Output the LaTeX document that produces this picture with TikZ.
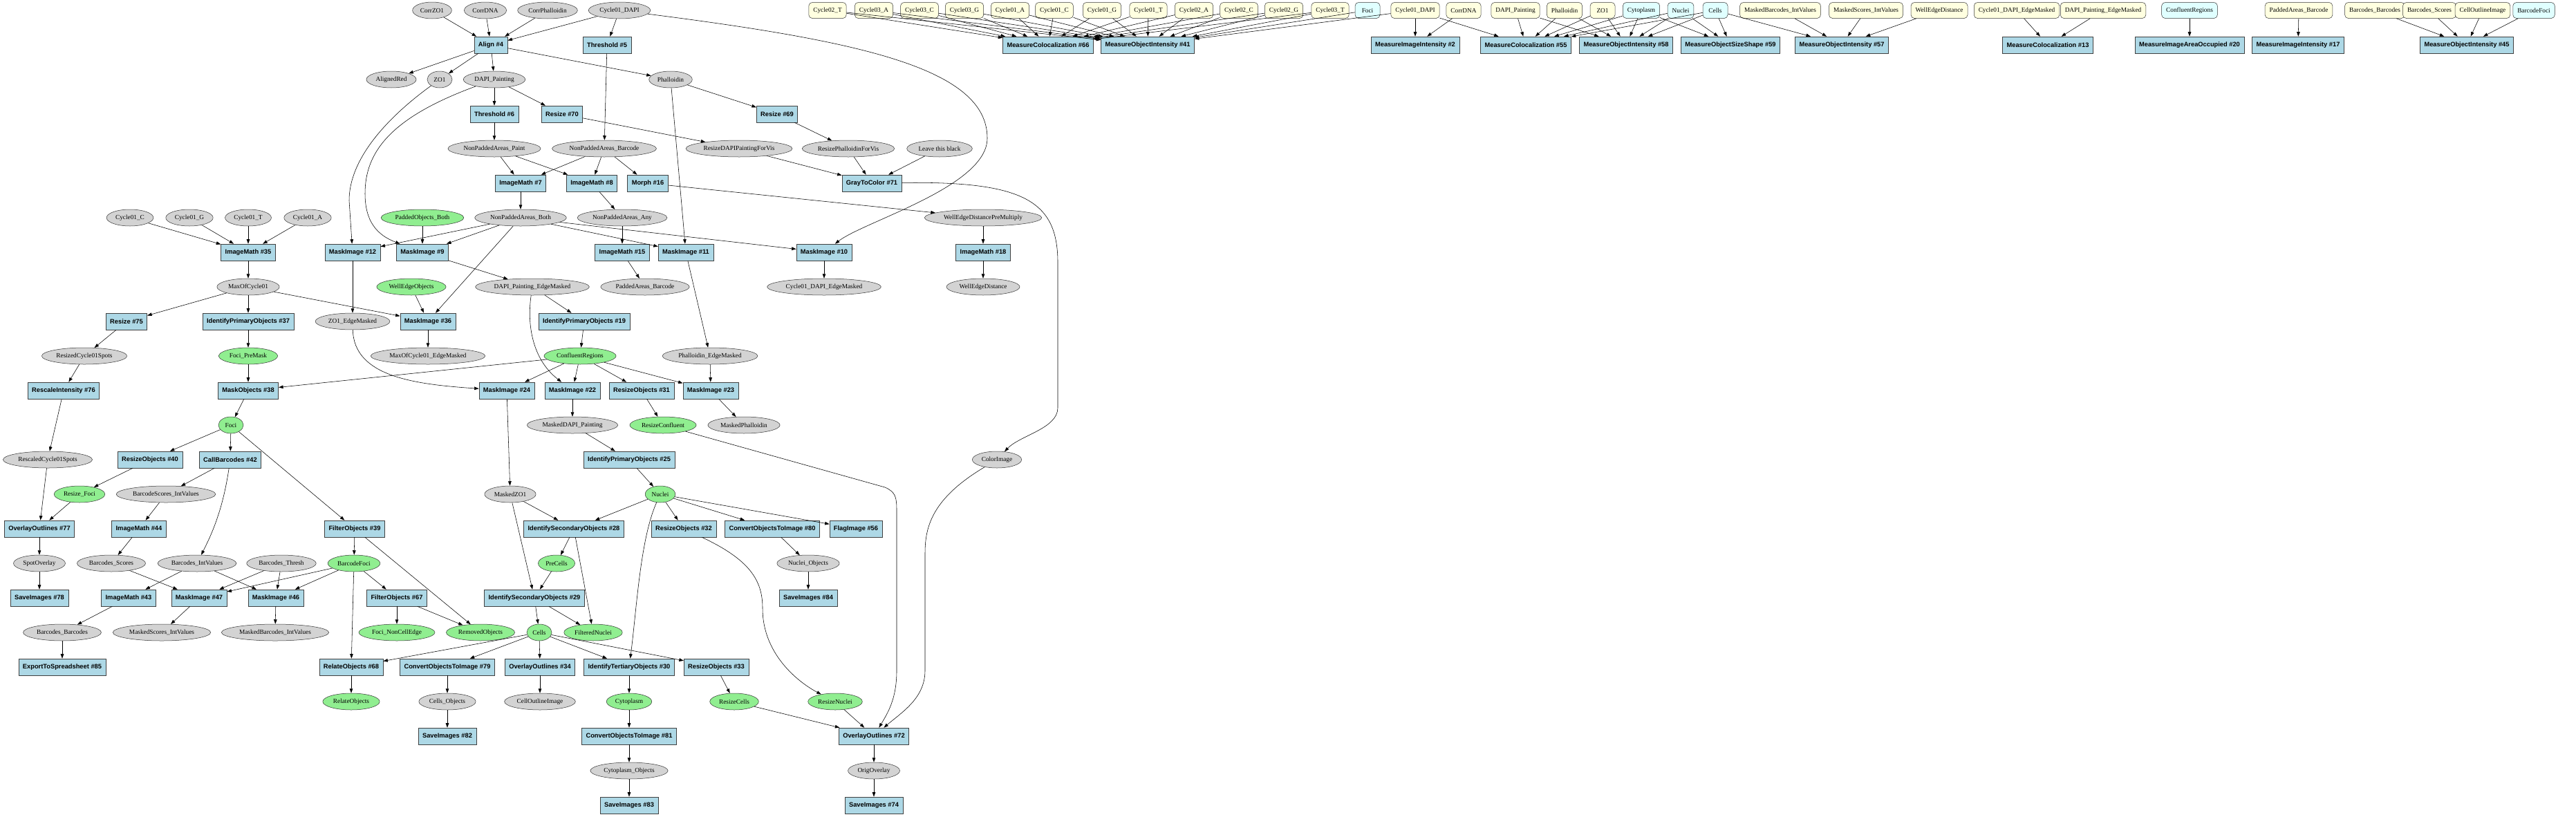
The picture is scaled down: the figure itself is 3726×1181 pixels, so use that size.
\documentclass[tikz,border=0pt]{standalone}
\usepackage{fontspec}
\setmainfont{Liberation Serif}
\setsansfont{Liberation Sans}
\usepackage{tikz}
\usetikzlibrary{arrows.meta,shapes.geometric}
\definecolor{cpModBlue}{HTML}{ADD8E6}
\definecolor{cpImgGray}{HTML}{D3D3D3}
\definecolor{cpObjGreen}{HTML}{90EE90}
\definecolor{cpInYellow}{HTML}{FFFFE0}
\definecolor{cpInCyan}{HTML}{E0FFFF}
\newcommand{\cpLabFont}{\fontsize{9.3}{10}\selectfont}
\newcommand{\cpModFont}{\sffamily\bfseries\fontsize{9.3}{10}\selectfont}
\tikzset{
  cpmod/.style={rectangle, draw=black!75, fill=cpModBlue, line width=0.6pt,
                minimum width=36pt, minimum height=24pt, inner xsep=6pt, font=\cpModFont},
  cpimg/.style={ellipse, draw=black!80, fill=cpImgGray, line width=0.5pt,
                minimum width=36pt, minimum height=24pt, inner xsep=3pt, inner ysep=1pt, font=\cpLabFont},
  cpobj/.style={cpimg, fill=cpObjGreen},
  cpin/.style={rectangle, rounded corners=5pt, draw=black!80, fill=cpInYellow, line width=0.5pt,
               minimum width=36pt, minimum height=23pt, inner xsep=6.5pt, font=\cpLabFont},
  cpinobj/.style={cpin, fill=cpInCyan},
  cpedge/.style={draw=black, line width=0.55pt, -{Triangle[length=6.5pt,width=4.6pt]}},
}

\begin{document}
\begin{tikzpicture}[x=1pt, y=-1pt]
  \useasboundingbox (0,0) rectangle (3726,1181);
  % main pipeline
  \node[cpimg] (corrzo) at (625,15) {CorrZO1};
  \node[cpimg] (corrdna) at (702,15) {CorrDNA};
  \node[cpimg] (corrph) at (792,15) {CorrPhalloidin};
  \node[cpimg] (dapi) at (896,15) {Cycle01\_DAPI};
  \node[cpmod] (align) at (710,65) {Align \#4};
  \node[cpmod] (thr5) at (878,65) {Threshold \#5};
  \node[cpimg] (alignedred) at (566,115) {AlignedRed};
  \node[cpimg] (zo) at (636,115) {ZO1};
  \node[cpimg] (dapipaint) at (715,115) {DAPI\_Painting};
  \node[cpimg] (phall) at (970,115) {Phalloidin};
  \node[cpmod] (thr6) at (715,165) {Threshold \#6};
  \node[cpmod] (rs70) at (813,165) {Resize \#70};
  \node[cpmod] (rs69) at (1124,165) {Resize \#69};
  \node[cpimg] (npap) at (715,215) {NonPaddedAreas\_Paint};
  \node[cpimg] (npab) at (874,215) {NonPaddedAreas\_Barcode};
  \node[cpimg] (rdpv) at (1069,215) {ResizeDAPIPaintingForVis};
  \node[cpimg] (rppv) at (1227,215) {ResizePhalloidinForVis};
  \node[cpimg] (leave) at (1359,215) {Leave this black};
  \node[cpmod] (im7) at (753,265) {ImageMath \#7};
  \node[cpmod] (im8) at (856,265) {ImageMath \#8};
  \node[cpmod] (morph) at (937,265) {Morph \#16};
  \node[cpmod] (gtc) at (1261,265) {GrayToColor \#71};
  \node[cpimg] (c01c) at (188,315) {Cycle01\_C};
  \node[cpimg] (c01g) at (274,315) {Cycle01\_G};
  \node[cpimg] (c01t) at (359,315) {Cycle01\_T};
  \node[cpimg] (c01a) at (445,315) {Cycle01\_A};
  \node[cpobj] (pob) at (611,315) {PaddedObjects\_Both};
  \node[cpimg] (npboth) at (753,315) {NonPaddedAreas\_Both};
  \node[cpimg] (npany) at (900,315) {NonPaddedAreas\_Any};
  \node[cpimg] (wedpm) at (1422,315) {WellEdgeDistancePreMultiply};
  \node[cpmod] (im35) at (359,365) {ImageMath \#35};
  \node[cpmod] (mi12) at (510,365) {MaskImage \#12};
  \node[cpmod] (mi9) at (611,365) {MaskImage \#9};
  \node[cpmod] (im15) at (900,365) {ImageMath \#15};
  \node[cpmod] (mi11) at (992,365) {MaskImage \#11};
  \node[cpmod] (mi10) at (1192,365) {MaskImage \#10};
  \node[cpmod] (im18) at (1422,365) {ImageMath \#18};
  \node[cpimg] (maxc1) at (359,415) {MaxOfCycle01};
  \node[cpobj] (weo) at (595,415) {WellEdgeObjects};
  \node[cpimg] (dpem) at (770,415) {DAPI\_Painting\_EdgeMasked};
  \node[cpimg] (pab) at (933,415) {PaddedAreas\_Barcode};
  \node[cpimg] (c1dem) at (1192,415) {Cycle01\_DAPI\_EdgeMasked};
  \node[cpimg] (wed) at (1422,415) {WellEdgeDistance};
  \node[cpmod] (rs75) at (183,465) {Resize \#75};
  \node[cpmod] (ipo37) at (359,465) {IdentifyPrimaryObjects \#37};
  \node[cpimg] (zoem) at (510,465) {ZO1\_EdgeMasked};
  \node[cpmod] (mi36) at (619,465) {MaskImage \#36};
  \node[cpmod] (ipo19) at (845,465) {IdentifyPrimaryObjects \#19};
  \node[cpimg] (rc1s) at (122,515) {ResizedCycle01Spots};
  \node[cpobj] (fpm) at (359,515) {Foci\_PreMask};
  \node[cpimg] (maxem) at (619,515) {MaxOfCycle01\_EdgeMasked};
  \node[cpobj] (conf) at (839,515) {ConfluentRegions};
  \node[cpimg] (phem) at (1027,515) {Phalloidin\_EdgeMasked};
  \node[cpmod] (ri76) at (92,565) {RescaleIntensity \#76};
  \node[cpmod] (mo38) at (359,565) {MaskObjects \#38};
  \node[cpmod] (mi24) at (733,565) {MaskImage \#24};
  \node[cpmod] (mi22) at (828,565) {MaskImage \#22};
  \node[cpmod] (ro31) at (928,565) {ResizeObjects \#31};
  \node[cpmod] (mi23) at (1028,565) {MaskImage \#23};
  \node[cpobj] (foci) at (334,615) {Foci};
  \node[cpimg] (mdp) at (828,615) {MaskedDAPI\_Painting};
  \node[cpobj] (rconf) at (959,615) {ResizeConfluent};
  \node[cpimg] (mph) at (1076,615) {MaskedPhalloidin};
  \node[cpimg] (rsc1s) at (69,665) {RescaledCycle01Spots};
  \node[cpmod] (ro40) at (217,665) {ResizeObjects \#40};
  \node[cpmod] (cb42) at (333,665) {CallBarcodes \#42};
  \node[cpmod] (ipo25) at (910,665) {IdentifyPrimaryObjects \#25};
  \node[cpimg] (color) at (1442,665) {ColorImage};
  \node[cpobj] (rfoci) at (115,715) {Resize\_Foci};
  \node[cpimg] (bsiv) at (240,715) {BarcodeScores\_IntValues};
  \node[cpimg] (mzo) at (738,715) {MaskedZO1};
  \node[cpobj] (nuclei) at (955,715) {Nuclei};
  \node[cpmod] (oo77) at (57,765) {OverlayOutlines \#77};
  \node[cpmod] (im44) at (201,765) {ImageMath \#44};
  \node[cpmod] (fo39) at (513,765) {FilterObjects \#39};
  \node[cpmod] (iso28) at (830,765) {IdentifySecondaryObjects \#28};
  \node[cpmod] (ro32) at (989,765) {ResizeObjects \#32};
  \node[cpmod] (co80) at (1117,765) {ConvertObjectsToImage \#80};
  \node[cpmod] (flag56) at (1238,765) {FlagImage \#56};
  \node[cpimg] (spot) at (57,815) {SpotOverlay};
  \node[cpimg] (bscores) at (161,815) {Barcodes\_Scores};
  \node[cpimg] (bint) at (285,815) {Barcodes\_IntValues};
  \node[cpimg] (bthresh) at (407,815) {Barcodes\_Thresh};
  \node[cpobj] (bfoci) at (512,815) {BarcodeFoci};
  \node[cpobj] (precells) at (805,815) {PreCells};
  \node[cpimg] (nucobj) at (1169,815) {Nuclei\_Objects};
  \node[cpmod] (si78) at (57,865) {SaveImages \#78};
  \node[cpmod] (im43) at (186,865) {ImageMath \#43};
  \node[cpmod] (mi47) at (288,865) {MaskImage \#47};
  \node[cpmod] (mi46) at (399,865) {MaskImage \#46};
  \node[cpmod] (fo67) at (574,865) {FilterObjects \#67};
  \node[cpmod] (iso29) at (773,865) {IdentifySecondaryObjects \#29};
  \node[cpmod] (si84) at (1169,865) {SaveImages \#84};
  \node[cpimg] (bbar) at (90,915) {Barcodes\_Barcodes};
  \node[cpimg] (msiv) at (234,915) {MaskedScores\_IntValues};
  \node[cpimg] (mbiv) at (398,915) {MaskedBarcodes\_IntValues};
  \node[cpobj] (fnce) at (574,915) {Foci\_NonCellEdge};
  \node[cpobj] (remobj) at (695,915) {RemovedObjects};
  \node[cpobj] (cells) at (780,915) {Cells};
  \node[cpobj] (fnuc) at (858,915) {FilteredNuclei};
  \node[cpmod] (ets85) at (90,965) {ExportToSpreadsheet \#85};
  \node[cpmod] (ro68) at (508,965) {RelateObjects \#68};
  \node[cpmod] (co79) at (647,965) {ConvertObjectsToImage \#79};
  \node[cpmod] (oo34) at (781,965) {OverlayOutlines \#34};
  \node[cpmod] (ito30) at (910,965) {IdentifyTertiaryObjects \#30};
  \node[cpmod] (ro33) at (1036,965) {ResizeObjects \#33};
  \node[cpobj] (relobj) at (508,1015) {RelateObjects};
  \node[cpimg] (cellobj) at (647,1015) {Cells\_Objects};
  \node[cpimg] (coi) at (781,1015) {CellOutlineImage};
  \node[cpobj] (cyto) at (910,1015) {Cytoplasm};
  \node[cpobj] (rcells) at (1062,1015) {ResizeCells};
  \node[cpobj] (rnuc) at (1208,1015) {ResizeNuclei};
  \node[cpmod] (si82) at (647,1065) {SaveImages \#82};
  \node[cpmod] (co81) at (910,1065) {ConvertObjectsToImage \#81};
  \node[cpmod] (oo72) at (1264,1065) {OverlayOutlines \#72};
  \node[cpimg] (cytoobj) at (910,1115) {Cytoplasm\_Objects};
  \node[cpimg] (origov) at (1264,1115) {OrigOverlay};
  \node[cpmod] (si83) at (910,1165) {SaveImages \#83};
  \node[cpmod] (si74) at (1264,1165) {SaveImages \#74};

  % measurement inputs
  \node[cpin] (tc02t) at (1197,15) {Cycle02\_T};
  \node[cpin] (tc03a) at (1264,15) {Cycle03\_A};
  \node[cpin] (tc03c) at (1330,15) {Cycle03\_C};
  \node[cpin] (tc03g) at (1395,15) {Cycle03\_G};
  \node[cpin] (tc01a) at (1461,15) {Cycle01\_A};
  \node[cpin] (tc01c) at (1525,15) {Cycle01\_C};
  \node[cpin] (tc01g) at (1594,15) {Cycle01\_G};
  \node[cpin] (tc01t) at (1661,15) {Cycle01\_T};
  \node[cpin] (tc02a) at (1727,15) {Cycle02\_A};
  \node[cpin] (tc02c) at (1792,15) {Cycle02\_C};
  \node[cpin] (tc02g) at (1857,15) {Cycle02\_G};
  \node[cpin] (tc03t) at (1924,15) {Cycle03\_T};
  \node[cpinobj] (tfoci) at (1978,15) {Foci};
  \node[cpin] (tdapi) at (2047,15) {Cycle01\_DAPI};
  \node[cpin] (tcorrdna) at (2117,15) {CorrDNA};
  \node[cpin] (tdp) at (2192,15) {DAPI\_Painting};
  \node[cpin] (tph) at (2263,15) {Phalloidin};
  \node[cpin] (tzo) at (2318,15) {ZO1};
  \node[cpinobj] (tcyto) at (2374,15) {Cytoplasm};
  \node[cpinobj] (tnuc) at (2431,15) {Nuclei};
  \node[cpinobj] (tcells) at (2481,15) {Cells};
  \node[cpin] (tmbiv) at (2575,15) {MaskedBarcodes\_IntValues};
  \node[cpin] (tmsiv) at (2699,15) {MaskedScores\_IntValues};
  \node[cpin] (twed) at (2805,15) {WellEdgeDistance};
  \node[cpin] (tc1dem) at (2917,15) {Cycle01\_DAPI\_EdgeMasked};
  \node[cpin] (tdpem) at (3042,15) {DAPI\_Painting\_EdgeMasked};
  \node[cpinobj] (tconf) at (3167,15) {ConfluentRegions};
  \node[cpin] (tpab) at (3325,15) {PaddedAreas\_Barcode};
  \node[cpin] (tbbar) at (3435,15) {Barcodes\_Barcodes};
  \node[cpin] (tbsc) at (3514,15) {Barcodes\_Scores};
  \node[cpin] (tcoi) at (3591,15) {CellOutlineImage};
  \node[cpinobj] (tbfoci) at (3665,15) {BarcodeFoci};
  \node[cpmod] (mc66) at (1516,65) {MeasureColocalization \#66};
  \node[cpmod] (moi41) at (1660,65) {MeasureObjectIntensity \#41};
  \node[cpmod] (mii2) at (2047,65) {MeasureImageIntensity \#2};
  \node[cpmod] (mc55) at (2207,65) {MeasureColocalization \#55};
  \node[cpmod] (moi58) at (2352,65) {MeasureObjectIntensity \#58};
  \node[cpmod] (moss59) at (2503,65) {MeasureObjectSizeShape \#59};
  \node[cpmod] (moi57) at (2664,65) {MeasureObjectIntensity \#57};
  \node[cpmod] (mc13) at (2962,65) {MeasureColocalization \#13};
  \node[cpmod] (miao20) at (3167,65) {MeasureImageAreaOccupied \#20};
  \node[cpmod] (mii17) at (3324,65) {MeasureImageIntensity \#17};
  \node[cpmod] (moi45) at (3568,65) {MeasureObjectIntensity \#45};

  % connectors
  \foreach \s in {corrzo,corrdna,corrph,dapi} \draw[cpedge] (\s) -- (align);
  \draw[cpedge] (dapi) -- (thr5);
  \draw[cpedge] (dapi) .. controls (1250,60) and (1428,100) .. (1428,200) .. controls (1428,270) and (1250,320) .. (mi10);
  \foreach \t in {alignedred,zo,dapipaint,phall} \draw[cpedge] (align) -- (\t);
  \draw[cpedge] (thr5) -- (npab);
  \draw[cpedge] (dapipaint) -- (thr6);
  \draw[cpedge] (dapipaint) -- (rs70);
  \draw[cpedge] (dapipaint) .. controls (565,170) and (528,220) .. (528,280) .. controls (528,320) and (545,340) .. (mi9);
  \draw[cpedge] (zo) .. controls (560,170) and (505,230) .. (505,290) -- (mi12);
  \draw[cpedge] (phall) -- (rs69);
  \draw[cpedge] (phall) -- (mi11);
  \draw[cpedge] (thr6) -- (npap);
  \draw[cpedge] (rs70) -- (rdpv);
  \draw[cpedge] (rs69) -- (rppv);
  \foreach \t in {im7,im8} \draw[cpedge] (npap) -- (\t);
  \foreach \t in {im7,im8,morph} \draw[cpedge] (npab) -- (\t);
  \foreach \s in {rdpv,rppv,leave} \draw[cpedge] (\s) -- (gtc);
  \draw[cpedge] (gtc) .. controls (1480,262) and (1530,290) .. (1530,380) -- (1530,590) .. controls (1530,620) and (1475,630) .. (color);
  \draw[cpedge] (morph) -- (wedpm);
  \draw[cpedge] (im7) -- (npboth);
  \draw[cpedge] (im8) -- (npany);
  \foreach \t in {mi12,mi9,mi11,mi10,mi36} \draw[cpedge] (npboth) -- (\t);
  \draw[cpedge] (pob) -- (mi9);
  \draw[cpedge] (npany) -- (im15);
  \draw[cpedge] (wedpm) -- (im18);
  \draw[cpedge] (im18) -- (wed);
  \foreach \s in {c01c,c01g,c01t,c01a} \draw[cpedge] (\s) -- (im35);
  \draw[cpedge] (im35) -- (maxc1);
  \draw[cpedge] (mi12) -- (zoem);
  \draw[cpedge] (mi9) -- (dpem);
  \draw[cpedge] (im15) -- (pab);
  \draw[cpedge] (mi11) -- (phem);
  \draw[cpedge] (mi10) -- (c1dem);
  \foreach \t in {rs75,ipo37,mi36} \draw[cpedge] (maxc1) -- (\t);
  \draw[cpedge] (weo) -- (mi36);
  \draw[cpedge] (mi36) -- (maxem);
  \draw[cpedge] (rs75) -- (rc1s);
  \draw[cpedge] (rc1s) -- (ri76);
  \draw[cpedge] (ri76) -- (rsc1s);
  \draw[cpedge] (rsc1s) -- (oo77);
  \draw[cpedge] (ipo37) -- (fpm);
  \draw[cpedge] (fpm) -- (mo38);
  \draw[cpedge] (mo38) -- (foci);
  \draw[cpedge] (dpem) -- (ipo19);
  \draw[cpedge] (ipo19) -- (conf);
  \draw[cpedge] (dpem) .. controls (762,470) and (770,520) .. (mi22);
  \foreach \t in {mo38,mi24,mi22,ro31,mi23} \draw[cpedge] (conf) -- (\t);
  \draw[cpedge] (phem) -- (mi23);
  \draw[cpedge] (zoem) .. controls (512,545) and (600,556) .. (mi24);
  \draw[cpedge] (mi24) -- (mzo);
  \draw[cpedge] (mi22) -- (mdp);
  \draw[cpedge] (ro31) -- (rconf);
  \draw[cpedge] (mi23) -- (mph);
  \draw[cpedge] (mdp) -- (ipo25);
  \draw[cpedge] (ipo25) -- (nuclei);
  \draw[cpedge] (rconf) -- (1280,705) .. controls (1296,712) and (1297,720) .. (1297,740) -- (1297,970) .. controls (1297,1010) and (1285,1030) .. (oo72);
  \draw[cpedge] (color) .. controls (1350,720) and (1338,760) .. (1338,800) -- (1338,970) .. controls (1338,1010) and (1305,1030) .. (oo72);
  \foreach \t in {ro40,cb42,fo39} \draw[cpedge] (foci) -- (\t);
  \draw[cpedge] (ro40) -- (rfoci);
  \draw[cpedge] (rfoci) -- (oo77);
  \draw[cpedge] (cb42) -- (bsiv);
  \draw[cpedge] (bsiv) -- (im44);
  \draw[cpedge] (cb42) .. controls (322,740) and (305,775) .. (bint);
  \draw[cpedge] (im44) -- (bscores);
  \draw[cpedge] (fo39) -- (bfoci);
  \draw[cpedge] (fo39) -- (remobj);
  \draw[cpedge] (oo77) -- (spot);
  \draw[cpedge] (spot) -- (si78);
  \draw[cpedge] (bscores) -- (mi47);
  \draw[cpedge] (bint) -- (im43);
  \draw[cpedge] (bint) -- (mi46);
  \draw[cpedge] (bthresh) -- (mi47);
  \draw[cpedge] (bthresh) -- (mi46);
  \foreach \t in {mi47,mi46,fo67,ro68} \draw[cpedge] (bfoci) -- (\t);
  \draw[cpedge] (im43) -- (bbar);
  \draw[cpedge] (bbar) -- (ets85);
  \draw[cpedge] (mi47) -- (msiv);
  \draw[cpedge] (mi46) -- (mbiv);
  \draw[cpedge] (fo67) -- (fnce);
  \draw[cpedge] (fo67) -- (remobj);
  \draw[cpedge] (mzo) -- (iso28);
  \draw[cpedge] (mzo) -- (iso29);
  \foreach \t in {iso28,ro32,co80,flag56} \draw[cpedge] (nuclei) -- (\t);
  \draw[cpedge] (nuclei) .. controls (926,780) and (921,880) .. (ito30);
  \draw[cpedge] (iso28) -- (precells);
  \draw[cpedge] (iso28) -- (fnuc);
  \draw[cpedge] (ro32) .. controls (1085,810) and (1103,840) .. (1103,880) .. controls (1103,950) and (1160,990) .. (rnuc);
  \draw[cpedge] (co80) -- (nucobj);
  \draw[cpedge] (nucobj) -- (si84);
  \draw[cpedge] (precells) -- (iso29);
  \draw[cpedge] (iso29) -- (cells);
  \draw[cpedge] (iso29) -- (fnuc);
  \foreach \t in {ro68,co79,oo34,ito30,ro33} \draw[cpedge] (cells) -- (\t);
  \draw[cpedge] (ro68) -- (relobj);
  \draw[cpedge] (co79) -- (cellobj);
  \draw[cpedge] (cellobj) -- (si82);
  \draw[cpedge] (oo34) -- (coi);
  \draw[cpedge] (ito30) -- (cyto);
  \draw[cpedge] (cyto) -- (co81);
  \draw[cpedge] (co81) -- (cytoobj);
  \draw[cpedge] (cytoobj) -- (si83);
  \draw[cpedge] (ro33) -- (rcells);
  \draw[cpedge] (rcells) -- (oo72);
  \draw[cpedge] (rnuc) -- (oo72);
  \draw[cpedge] (oo72) -- (origov);
  \draw[cpedge] (origov) -- (si74);

  % measurement connectors
  \foreach \s in {tc02t,tc03a,tc03c,tc03g,tc01a,tc01c,tc01g,tc01t,tc02a,tc02c,tc02g,tc03t} {
    \draw[cpedge] (\s) -- (mc66);
    \draw[cpedge] (\s) -- (moi41);
  }
  \draw[cpedge] (tfoci) -- (moi41);
  \draw[cpedge] (tdapi) -- (moi41);
  \draw[cpedge] (tdapi) -- (mii2);
  \draw[cpedge] (tcorrdna) -- (mii2);
  \foreach \s in {tdapi,tdp,tph,tzo,tcyto,tnuc,tcells} \draw[cpedge] (\s) -- (mc55);
  \foreach \s in {tdp,tph,tzo,tcyto,tnuc,tcells} \draw[cpedge] (\s) -- (moi58);
  \foreach \s in {tcyto,tnuc,tcells} \draw[cpedge] (\s) -- (moss59);
  \foreach \s in {tcells,tmbiv,tmsiv,twed} \draw[cpedge] (\s) -- (moi57);
  \draw[cpedge] (tc1dem) -- (mc13);
  \draw[cpedge] (tdpem) -- (mc13);
  \draw[cpedge] (tconf) -- (miao20);
  \draw[cpedge] (tpab) -- (mii17);
  \foreach \s in {tbbar,tbsc,tcoi,tbfoci} \draw[cpedge] (\s) -- (moi45);
\end{tikzpicture}
\end{document}
